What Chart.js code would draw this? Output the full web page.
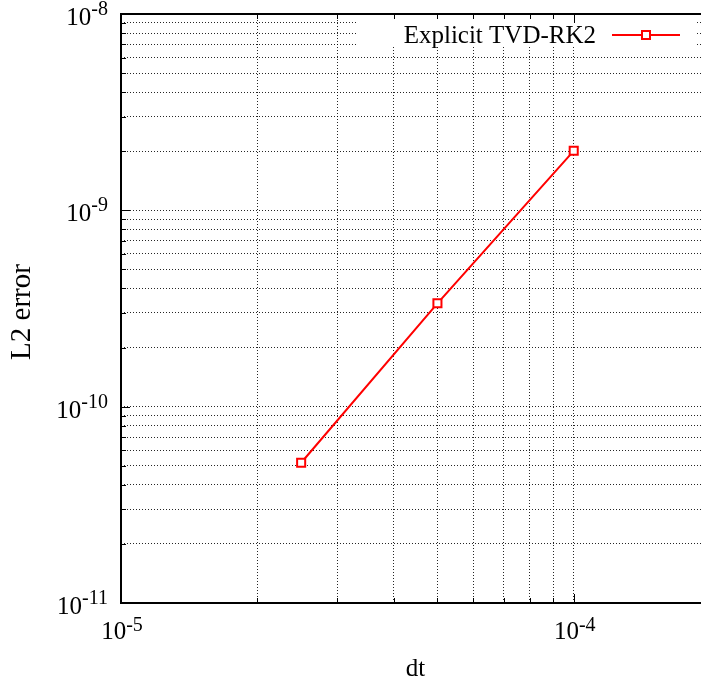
<!DOCTYPE html>
<html>
<head>
<meta charset="utf-8">
<script src="https://cdn.jsdelivr.net/npm/chart.js@4"></script>
<style>
  html, body { margin: 0; padding: 0; background: #fff; overflow: hidden; }
  canvas { display: block; }
</style>
</head>
<body>
<canvas id="myChart" width="712" height="682"></canvas>
<script>
// data
const dtValues = [2.5e-5, 5e-5, 1e-4];
const errValues = [5.18e-11, 3.36e-10, 2.01e-9];
const seriesLabel = 'Explicit TVD-RK2';

// tick labels (decade exponents) and grid ticks
const xLabelExps = [-5, -4];
const yLabelExps = [-11, -10, -9, -8];
const xTicks = [1e-5, 2e-5, 3e-5, 4e-5, 5e-5, 6e-5, 7e-5, 8e-5, 9e-5, 1e-4, 2e-4];
const yDecades = [1e-11, 1e-10, 1e-9];
const minorSteps = [1, 2, 3, 4, 5, 6, 7, 8, 9];
const yTicks = [];
yDecades.forEach(d => minorSteps.forEach(m => yTicks.push(m * d)));
yTicks.push(1e-8);

const SERIF = '"Liberation Serif", "Times New Roman", serif';

function isDecade(v) {
    const l = Math.log10(v);
    return Math.abs(l - Math.round(l)) < 1e-6;
}

// label "10^exp" with a raised exponent
function drawPow(ctx, x, y, exp, align, raise) {
    ctx.font = '25px ' + SERIF;
    const baseW = ctx.measureText('10').width;
    ctx.font = '20px ' + SERIF;
    const sup = String(exp);
    const supW = ctx.measureText(sup).width;
    let left = x;
    if (align === 'right') left = x - baseW - supW;
    if (align === 'center') left = x - (baseW + supW) / 2;
    ctx.textAlign = 'left';
    ctx.textBaseline = 'alphabetic';
    ctx.font = '25px ' + SERIF;
    ctx.fillText('10', left, y);
    ctx.font = '20px ' + SERIF;
    ctx.fillText(sup, left + baseW, y - raise);
}

const gnuplotLook = {
    id: 'gnuplotLook',
    beforeDatasetsDraw(chart) {
        // key box hides the grid behind it
        const ctx = chart.ctx;
        ctx.save();
        ctx.fillStyle = '#fff';
        ctx.fillRect(357, 16, 338, 31);
        ctx.restore();
    },
    afterDraw(chart) {
        const ctx = chart.ctx;
        const a = chart.chartArea;
        const xs = chart.scales.x, ys = chart.scales.y;
        ctx.save();

        // tics on all four borders
        ctx.strokeStyle = '#000';
        ctx.lineWidth = 1;
        ctx.beginPath();
        xTicks.forEach(v => {
            const px = Math.round(xs.getPixelForValue(v)) + 0.5;
            const len = isDecade(v) ? 9 : 5;
            ctx.moveTo(px, a.bottom); ctx.lineTo(px, a.bottom - len);
            ctx.moveTo(px, a.top); ctx.lineTo(px, a.top + len);
        });
        yTicks.forEach(v => {
            const py = Math.round(ys.getPixelForValue(v)) + 0.5;
            const len = isDecade(v) ? 9 : 5;
            ctx.moveTo(a.left, py); ctx.lineTo(a.left + len, py);
            ctx.moveTo(a.right, py); ctx.lineTo(a.right - len, py);
        });
        ctx.stroke();

        // frame
        ctx.lineWidth = 2;
        ctx.strokeRect(a.left, a.top, a.right - a.left, a.bottom - a.top);

        // tick labels
        ctx.fillStyle = '#000';
        yLabelExps.forEach(e => {
            const py = ys.getPixelForValue(Math.pow(10, e));
            drawPow(ctx, a.left - 13, py + 11, e, 'right', 10);
        });
        xLabelExps.forEach(e => {
            const px = xs.getPixelForValue(Math.pow(10, e));
            drawPow(ctx, px + 1, a.bottom + 36, e, 'center', 8);
        });

        // axis titles
        ctx.font = '25px ' + SERIF;
        ctx.textAlign = 'center';
        ctx.fillText('dt', (a.left + a.right) / 2, 676);
        ctx.save();
        ctx.translate(30, 312);
        ctx.rotate(-Math.PI / 2);
        ctx.font = '29px ' + SERIF;
        ctx.fillText('L2 error', 0, 0);
        ctx.restore();

        // key
        ctx.font = '25px ' + SERIF;
        ctx.textAlign = 'right';
        ctx.fillText(seriesLabel, 596, 43);
        ctx.strokeStyle = '#ff0000';
        ctx.lineWidth = 2;
        ctx.beginPath();
        ctx.moveTo(612, 35); ctx.lineTo(680, 35);
        ctx.stroke();
        ctx.fillStyle = '#fff';
        ctx.fillRect(642, 31, 8, 8);
        ctx.strokeRect(642, 31, 8, 8);

        ctx.restore();
    }
};

const ctx = document.getElementById('myChart').getContext('2d');
const myChart = new Chart(ctx, {
    type: 'line',
    data: {
        datasets: [{
            label: seriesLabel,
            data: dtValues.map((x, i) => ({ x: x, y: errValues[i] })),
            borderColor: '#ff0000',
            borderWidth: 2,
            pointStyle: 'rect',
            pointRadius: 5.7,
            pointBorderWidth: 2,
            pointBorderColor: '#ff0000',
            pointBackgroundColor: '#fff',
            tension: 0
        }]
    },
    options: {
        responsive: false,
        animation: false,
        events: [],
        layout: { autoPadding: false, padding: { left: 121, top: 14, right: 2, bottom: 79 } },
        plugins: { legend: { display: false }, tooltip: { enabled: false } },
        scales: {
            x: {
                type: 'logarithmic',
                min: 1e-5,
                max: 2e-4,
                afterBuildTicks: (s) => { s.ticks = xTicks.map(v => ({ value: v })); },
                afterFit: (s) => { s.height = 0; },
                ticks: { display: false },
                grid: { color: 'rgba(0,0,0,0.85)', lineWidth: 1, drawTicks: false },
                border: { display: false, dash: [1, 2] }
            },
            y: {
                type: 'logarithmic',
                min: 1e-11,
                max: 1e-8,
                afterBuildTicks: (s) => { s.ticks = yTicks.map(v => ({ value: v })); },
                afterFit: (s) => { s.width = 0; },
                ticks: { display: false },
                grid: { color: 'rgba(0,0,0,0.85)', lineWidth: 1, drawTicks: false },
                border: { display: false, dash: [1, 2] }
            }
        }
    },
    plugins: [gnuplotLook]
});
</script>
</body>
</html>
